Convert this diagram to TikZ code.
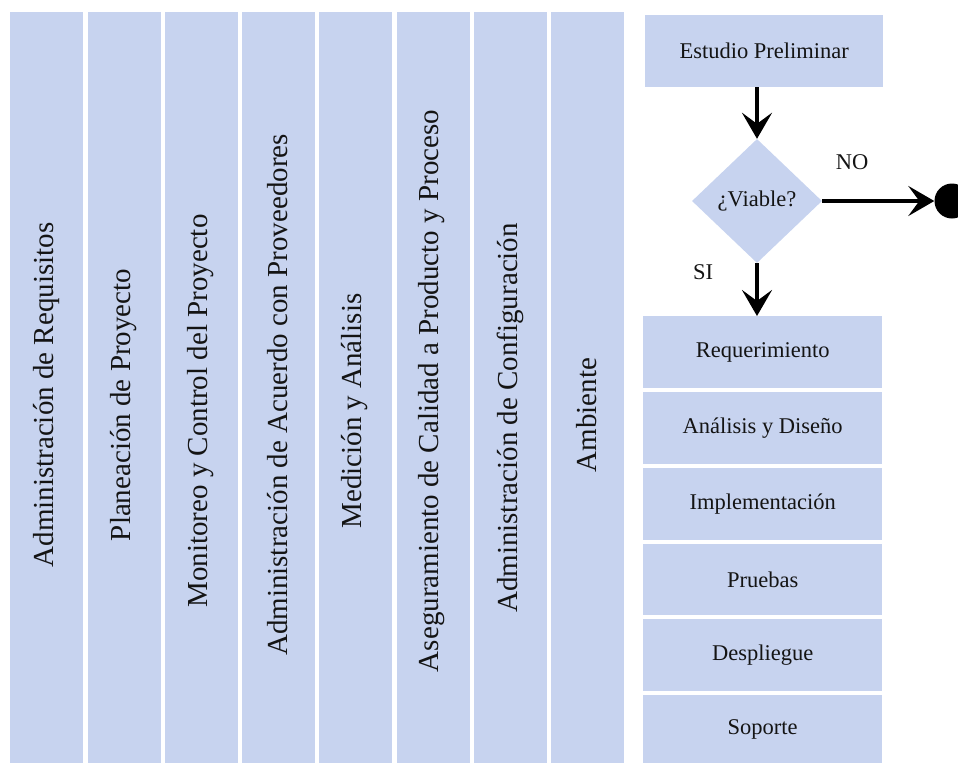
\documentclass[tikz,border=0pt]{standalone}
\usepackage{fontspec}
\setmainfont{Liberation Serif}
\usetikzlibrary{shapes.geometric,arrows.meta}
\definecolor{boxblue}{RGB}{199,211,239}
\definecolor{ink}{RGB}{20,20,20}
\begin{document}
\begin{tikzpicture}[x=1pt,y=-1pt,
  colbox/.style={fill=boxblue,draw=none,minimum width=73pt,minimum height=751pt,inner sep=0pt,anchor=north west},
  collabel/.style={rotate=90,text=ink,font=\fontsize{29}{29}\selectfont,inner sep=0pt},
  stepbox/.style={fill=boxblue,draw=none,minimum width=239pt,inner sep=0pt,anchor=north west,text=ink,font=\fontsize{22.5}{22.5}\selectfont},
  decision/.style={diamond,fill=boxblue,draw=none,minimum width=130pt,minimum height=124pt,inner sep=0pt,text=ink,font=\fontsize{22.5}{22.5}\selectfont},
  flowarrow/.style={line width=4pt,draw=black,-{Stealth[length=26pt,width=30pt,inset=11pt]}},
  smalllabel/.style={text=ink,font=\fontsize{22.5}{22.5}\selectfont,inner sep=0pt}
]
\useasboundingbox (0,0) rectangle (958,763);
% columns
\foreach \i/\xx in {1/10,2/88,3/165,4/242,5/319,6/397,7/474,8/551}{
  \node[colbox] (c\i) at (\xx,12) {};
}
\node[collabel] (t1) at (46.5,395) {Administración de Requisitos};
\node[collabel] (t2) at (124,405) {Planeación de Proyecto};
\node[collabel] (t3) at (201,411) {Monitoreo y Control del Proyecto};
\node[collabel] (t4) at (278,395) {Administración de Acuerdo con Proveedores};
\node[collabel] (t5) at (355,411) {Medición y Análisis};
\node[collabel] (t6) at (432,391) {Aseguramiento de Calidad a Producto y Proceso};
\node[collabel] (t7) at (510,418) {Administración de Configuración};
\node[collabel] (t8) at (587,415) {Ambiente};
% right flow
\node[stepbox,minimum width=238pt,minimum height=72pt] (est) at (645,15) {Estudio Preliminar};
\node[decision] (via) at (757,201) {¿Viable?};
\node[fill=black,circle,minimum size=35pt,inner sep=0pt] (fin) at (952,201) {};
\node[stepbox,minimum height=72pt] (req) at (643,316) {Requerimiento};
\node[stepbox,minimum height=72pt] (ana) at (643,392) {Análisis y Diseño};
\node[stepbox,minimum height=72pt] (imp) at (643,468) {Implementación};
\node[stepbox,minimum height=71pt] (pru) at (643,544) {Pruebas};
\node[stepbox,minimum height=72pt] (des) at (643,619) {Despliegue};
\node[stepbox,minimum height=68pt] (sop) at (643,695) {Soporte};
\node[smalllabel] (no) at (852,162) {NO};
\node[smalllabel] (si) at (703,272) {SI};
\draw[flowarrow] (est.south -| via.north) -- (via.north);
\draw[flowarrow] (via.east) -- (fin.west);
\draw[flowarrow] (via.south) -- (via.south |- req.north);
\end{tikzpicture}
\end{document}
